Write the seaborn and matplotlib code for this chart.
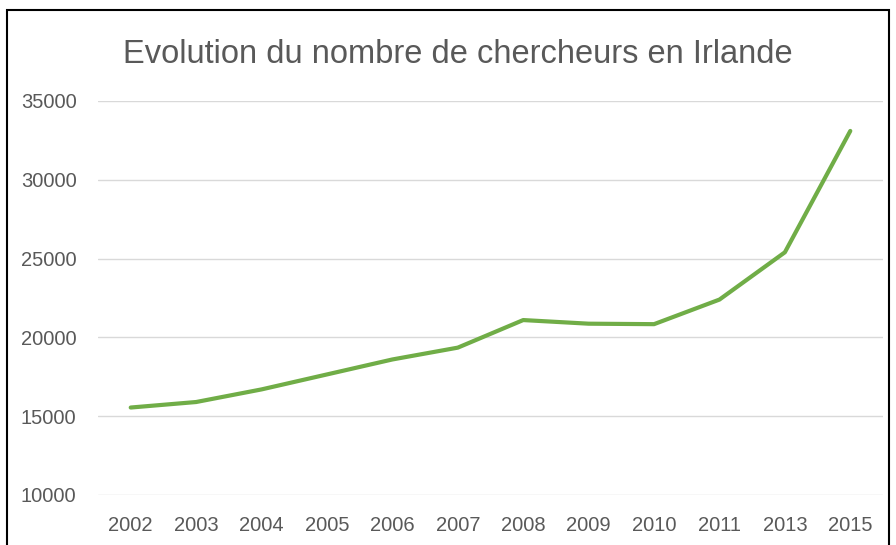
import matplotlib
matplotlib.use("Agg")
import matplotlib.pyplot as plt
import seaborn as sns
import pandas as pd
from matplotlib.patches import Rectangle

years = ["2002", "2003", "2004", "2005", "2006", "2007", "2008", "2009", "2010", "2011", "2013", "2015"]
chercheurs = [15550, 15900, 16700, 17650, 18600, 19350, 21100, 20870, 20840, 22400, 25400, 33100]
yticks = [10000, 15000, 20000, 25000, 30000, 35000]

sns.set_theme(style="white")
plt.rcParams['font.family'] = ['Liberation Sans', 'DejaVu Sans']

df = pd.DataFrame({"annee": years, "chercheurs": chercheurs})

fig = plt.figure(figsize=(8.96, 5.45), dpi=100)
ax = fig.add_axes([98/896, 1 - 495/545, (883-98)/896, (495-101)/545])

sns.lineplot(data=df, x="annee", y="chercheurs", ax=ax, color="#70AD47",
             linewidth=3.0, sort=False)
for l in ax.lines:
    l.set_solid_capstyle("round")
    l.set_solid_joinstyle("round")

ax.set_xlim(-0.5, len(years) - 0.5)
ax.set_ylim(10000, 35000)
ax.set_yticks(yticks)
ax.set_yticklabels([str(v) for v in yticks])
ax.grid(axis="y", color="#D9D9D9", linewidth=1.0)
ax.grid(axis="x", visible=False)
ax.set_axisbelow(True)
for s in ax.spines.values():
    s.set_visible(False)
ax.set_xlabel("")
ax.set_ylabel("")
ax.tick_params(axis="both", length=0, labelsize=14.5, colors="#595959")
ax.tick_params(axis="y", pad=15.5)
ax.tick_params(axis="x", pad=15)

fig.text(458/896, 1 - 63/545, "Evolution du nombre de chercheurs en Irlande",
         ha="center", va="baseline", fontsize=23.5, color="#595959")

fig.patches.append(Rectangle((7/896, -0.05), (889-7)/896, 1.05 - 10/545,
                             transform=fig.transFigure, fill=False,
                             edgecolor="black", linewidth=1.5))

fig.savefig("out.png", dpi=100, facecolor="white")
